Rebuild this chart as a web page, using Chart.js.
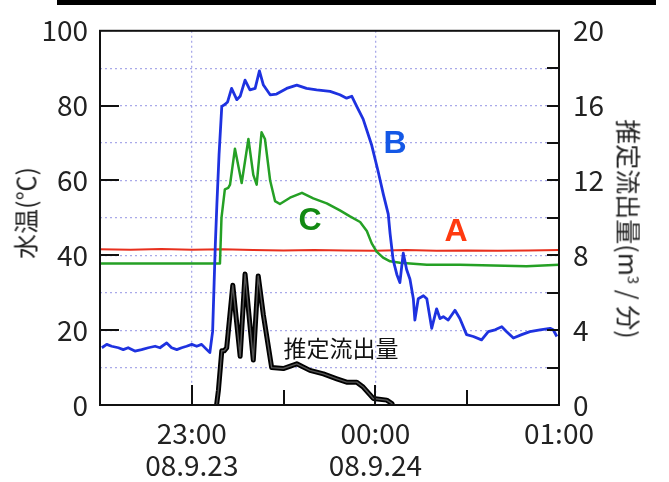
<!DOCTYPE html>
<html>
<head>
<meta charset="utf-8">
<script src="https://cdn.jsdelivr.net/npm/chart.js@4/dist/chart.umd.min.js"></script>
<style>
  body { margin: 0; background: #fff; }
  #wrap { position: relative; width: 669px; height: 482px; }
  .lbl { position: absolute; white-space: nowrap; line-height: 1; transform: translate(-50%, -50%); }
  .jp { font-family: "Noto Sans CJK JP", sans-serif; color: #222; }
  .tag { font-family: "Liberation Sans", sans-serif; font-weight: bold; }
</style>
</head>
<body>
<div id="wrap">
  <canvas id="chart" width="669" height="482"></canvas>
  <div style="position:absolute;left:57px;top:0;width:599px;height:5px;background:#000"></div>
  <div class="lbl jp" style="left:25px;top:213px;font-size:25px;transform:translate(-50%,-50%) rotate(-90deg)">水温(℃)</div>
  <div class="lbl jp" style="left:629px;top:229px;font-size:25px;transform:translate(-50%,-50%) rotate(90deg)">推定流出量(m<sup style="font-size:15px">3</sup> / 分)</div>
  <div class="lbl jp" style="left:341px;top:347px;font-size:23px;color:#111">推定流出量</div>
  <div class="lbl tag" style="left:395px;top:142px;font-size:32px;color:#1458e6">B</div>
  <div class="lbl tag" style="left:310px;top:219px;font-size:32px;color:#138a13">C</div>
  <div class="lbl tag" style="left:456px;top:230px;font-size:32px;color:#ff3a10">A</div>
</div>
<script>
// time axis: minutes after 22:30 on 08.9.23
const timeTickValues = [30, 60, 90, 120];
const timeLabels = { 30: ["23:00", "08.9.23"], 90: ["00:00", "08.9.24"], 150: ["01:00"] };
const tempTickValues = [20, 40, 60, 80];
const flowTickValues = [2, 4, 6, 8, 10, 12, 14, 16, 18];

// A (red) water temperature
const aTime = [0, 10, 20, 30, 40, 50, 60, 70, 80, 90, 100, 110, 120, 130, 140, 150];
const aTemp = [41.6, 41.5, 41.7, 41.5, 41.6, 41.4, 41.3, 41.4, 41.3, 41.2, 41.4, 41.2, 41.3, 41.2, 41.3, 41.4];

// B (blue) water temperature
const bTime = [0.6, 2.2, 3.8, 6.0, 7.6, 9.2, 11.4, 13.6, 15.8, 18.0,
  19.6, 21.8, 23.4, 25.1, 26.7, 28.3, 30.0, 31.6, 33.2, 34.9,
  35.9, 36.8, 37.3, 37.7, 38.2, 38.9, 39.8, 40.8, 41.7, 43.0,
  44.7, 45.8, 47.4, 49.0, 50.7, 52.1, 53.4, 55.6, 57.7, 61.0,
  64.3, 67.5, 70.8, 75.2, 78.4, 80.6, 82.3, 83.9, 86.0, 88.8,
  90.9, 92.6, 94.2, 94.8, 95.8, 97.0, 98.0, 99.1, 100.2, 101.3,
  102.4, 102.9, 104.0, 105.7, 106.8, 108.4, 110.0, 111.1, 112.2, 113.8,
  116.0, 117.6, 119.8, 122.0, 124.7, 126.9, 129.1, 131.3, 132.9, 135.1,
  137.8, 140.5, 143.8, 147.1, 148.1, 149.3];
const bTemp = [15.3, 16.2, 15.7, 15.3, 14.8, 15.3, 14.4, 14.8, 15.3, 15.7,
  15.3, 16.6, 15.3, 14.8, 15.3, 15.7, 16.2, 15.7, 16.2, 14.8,
  14.0, 19.6, 32.7, 43.2, 53.7, 66.8, 79.8, 80.3, 81.0, 84.6,
  81.6, 82.5, 86.8, 84.2, 84.6, 89.3, 85.5, 82.9, 83.1, 84.6,
  85.5, 84.6, 84.2, 83.8, 82.9, 82.0, 82.5, 79.8, 76.4, 69.4,
  62.4, 56.3, 51.0, 45.8, 38.8, 34.9, 32.7, 40.6, 36.2, 33.6,
  28.4, 22.7, 28.4, 29.2, 28.4, 20.5, 25.7, 23.1, 23.6, 22.7,
  25.3, 23.1, 18.8, 18.3, 17.4, 19.6, 20.1, 20.9, 19.6, 17.9,
  18.8, 19.6, 20.1, 20.5, 20.1, 18.3];

// C (green) water temperature
const cTime = [0, 39.2, 39.7, 40.8, 41.9, 42.5, 44.1, 46.3, 48.5, 50.1,
  51.2, 52.8, 53.9, 55.6, 57.2, 58.8, 62.1, 66.0, 69.7, 74.1,
  78.4, 81.7, 85.0, 87.2, 88.8, 90.4, 92.5, 94.8, 98.0, 106.8,
  117.6, 139.4, 150];
const cTemp = [37.8, 37.8, 50.0, 57.6, 58.0, 58.9, 68.5, 59.3, 71.1, 61.5,
  58.9, 72.9, 71.1, 60.0, 54.5, 53.7, 55.4, 56.7, 55.2, 53.9,
  52.0, 50.4, 48.9, 46.5, 43.2, 41.0, 39.4, 38.4, 38.0, 37.5,
  37.5, 37.1, 37.5];

// estimated outflow (m3/min), right axis
const qTime = [38.1, 38.7, 39.8, 40.6, 41.4, 43.4, 45.8, 47.4, 50.1, 51.7,
  53.4, 56.1, 59.9, 64.3, 68.6, 73.0, 77.4, 80.6, 83.9, 86.0,
  89.3, 93.7, 95.3, 95.7];
const qFlow = [0, 0.79, 2.9, 2.9, 3.05, 6.4, 2.6, 7.0, 2.4, 6.9,
  4.8, 2.0, 1.95, 2.2, 1.85, 1.66, 1.4, 1.22, 1.22, 0.96,
  0.35, 0.26, 0.09, 0];

const pts = (xs, ys) => xs.map((x, i) => ({ x: x, y: ys[i] }));

const gridColor = "rgba(140,140,225,0.75)";

const frameTicks = {
  id: "frameTicks",
  afterDatasetsDraw(chart) {
    const { ctx, chartArea: a, scales } = chart;
    ctx.save();
    ctx.strokeStyle = "#111";
    ctx.lineWidth = 2;
    ctx.beginPath();
    tempTickValues.forEach(v => {
      const y = Math.round(scales.y.getPixelForValue(v));
      ctx.moveTo(a.left, y); ctx.lineTo(a.left + 19, y);
    });
    flowTickValues.forEach(v => {
      const y = Math.round(scales.y2.getPixelForValue(v));
      ctx.moveTo(a.right, y); ctx.lineTo(a.right - 12, y);
    });
    timeTickValues.forEach(v => {
      const x = Math.round(scales.x.getPixelForValue(v));
      const len = v % 60 === 30 ? 20 : 15;
      ctx.moveTo(x, a.bottom); ctx.lineTo(x, a.bottom - len);
    });
    ctx.stroke();
    ctx.strokeRect(a.left, a.top, a.right - a.left, a.bottom - a.top);
    ctx.restore();
  }
};

Chart.defaults.font.family = "'Noto Sans CJK JP', sans-serif";
Chart.defaults.font.size = 28;
Chart.defaults.color = "#222";

new Chart(document.getElementById("chart"), {
  type: "line",
  data: {
    datasets: [
      { label: "A", data: pts(aTime, aTemp), borderColor: "#e8301e", borderWidth: 2, yAxisID: "y", order: 5 },
      { label: "C", data: pts(cTime, cTemp), borderColor: "#25a025", borderWidth: 2.5, yAxisID: "y", order: 4 },
      { label: "B", data: pts(bTime, bTemp), borderColor: "#1e32e0", borderWidth: 2.8, yAxisID: "y", order: 3 },
      { label: "推定流出量", data: pts(qTime, qFlow), borderColor: "#000", borderWidth: 5, yAxisID: "y2", order: 2 },
      { label: "推定流出量", data: pts(qTime, qFlow), borderColor: "#555", borderWidth: 1.4, yAxisID: "y2", order: 1 }
    ]
  },
  options: {
    responsive: false,
    animation: false,
    devicePixelRatio: 1,
    layout: { padding: { top: 23, left: 0, right: 0, bottom: 0 } },
    elements: { point: { radius: 0 }, line: { tension: 0, borderJoinStyle: "round" } },
    plugins: { legend: { display: false }, tooltip: { enabled: false } },
    scales: {
      x: {
        type: "linear",
        min: 0,
        max: 150,
        afterFit: s => { s.height = 77; },
        grid: {
          drawTicks: false,
          lineWidth: 1.3,
          color: c => (c.tick && c.tick.value % 60 === 30 && c.tick.value < 150) ? gridColor : "rgba(0,0,0,0)"
        },
        border: { display: false, dash: [2, 3] },
        ticks: {
          stepSize: 30,
          autoSkip: false,
          maxRotation: 0,
          padding: 13,
          font: { lineHeight: 1.12 },
          callback: v => timeLabels[v] || ""
        }
      },
      y: {
        position: "left",
        min: 0,
        max: 100,
        afterFit: s => { s.width = 100; },
        grid: { drawTicks: false, lineWidth: 1.3, color: gridColor },
        border: { display: false, dash: [2, 3] },
        ticks: { stepSize: 10, padding: 12, callback: v => (v % 20 === 0 ? v : "") }
      },
      y2: {
        position: "right",
        min: 0,
        max: 20,
        afterFit: s => { s.width = 110; },
        grid: { display: false, drawTicks: false },
        border: { display: false },
        ticks: { stepSize: 4, padding: 14 }
      }
    }
  },
  plugins: [frameTicks]
});
</script>
</body>
</html>
